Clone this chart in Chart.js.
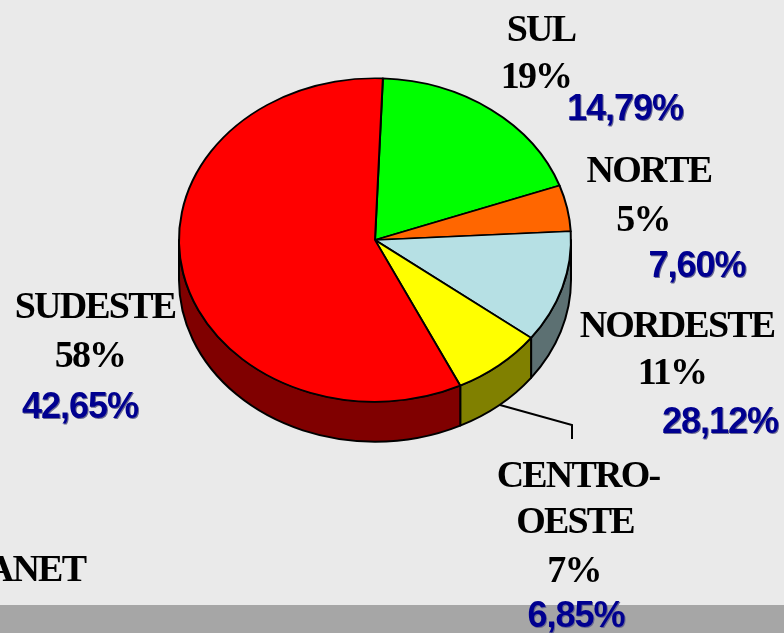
<!DOCTYPE html>
<html>
<head>
<meta charset="utf-8">
<script src="https://cdn.jsdelivr.net/npm/chart.js@4"></script>
<style>
  html, body { margin: 0; padding: 0; background: #eaeaea; overflow: hidden; }
  #page { position: relative; width: 784px; height: 633px; }
  #bar { position: absolute; left: 0; top: 605px; width: 784px; height: 28px; background: #a6a6a6; }
  #chart { position: absolute; left: 0; top: 0; }
</style>
</head>
<body>
<div id="page">
  <div id="bar"></div>
  <canvas id="chart" width="784" height="633"></canvas>
</div>
<script>
const categories = ['SUL', 'NORTE', 'NORDESTE', 'CENTRO-OESTE', 'SUDESTE'];
// slice sizes, they round to the printed labels
const shares = [18.9, 4.6, 11.2, 7.5, 57.8];
const shareLabels = ['19%', '5%', '11%', '7%', '58%'];
const otherLabels = ['14,79%', '7,60%', '28,12%', '6,85%', '42,65%'];
const sliceColors = ['#00ff00', '#ff6600', '#b6e0e4', '#ffff00', '#ff0000'];
const wallColors = ['#008000', '#803300', '#5c7072', '#808000', '#800000'];
const footerText = 'ANET';

const squash = 0.825;
const depth = 40;

// [text, x, baseline]
const serifText = [
  [categories[0], 541, 41],
  [shareLabels[0], 536, 88],
  [categories[1], 649, 182],
  [shareLabels[1], 643, 231],
  [categories[2], 677, 337],
  [shareLabels[2], 672, 384],
  ['CENTRO-', 578, 487],
  ['OESTE', 575, 533],
  [shareLabels[3], 574, 582],
  [categories[4], 95, 318],
  [shareLabels[4], 90, 367],
  [footerText, 36, 581]
];
const blueText = [
  [otherLabels[0], 625, 120],
  [otherLabels[1], 697, 277],
  [otherLabels[2], 720, 433],
  [otherLabels[3], 576, 627],
  [otherLabels[4], 80, 418]
];

const pie3d = {
  id: 'pie3d',
  beforeDatasetDraw(chart) {
    const ctx = chart.ctx;
    const arcs = chart.getDatasetMeta(0).data;
    const cx = arcs[0].x, cy = arcs[0].y, r = arcs[0].outerRadius;

    // leader line for the centro-oeste label
    ctx.save();
    ctx.strokeStyle = '#000';
    ctx.lineWidth = 2;
    ctx.beginPath();
    ctx.moveTo(500, 405);
    ctx.lineTo(572, 425);
    ctx.lineTo(572, 439);
    ctx.stroke();

    // side walls, only the front half of the ellipse shows
    arcs.forEach((arc, i) => {
      const a0 = Math.max(arc.startAngle, 0);
      const a1 = Math.min(arc.endAngle, Math.PI);
      if (a1 <= a0) return;
      ctx.beginPath();
      ctx.ellipse(cx, cy, r, r * squash, 0, a0, a1);
      ctx.ellipse(cx, cy + depth, r, r * squash, 0, a1, a0, true);
      ctx.closePath();
      ctx.fillStyle = wallColors[i];
      ctx.fill();
      ctx.lineJoin = 'round';
      ctx.stroke();
    });
    ctx.restore();

    ctx.save();
    ctx.translate(cx, cy);
    ctx.scale(1, squash);
    ctx.translate(-cx, -cy);
  },
  afterDatasetDraw(chart) {
    chart.ctx.restore();
  },
  afterDraw(chart) {
    const ctx = chart.ctx;
    ctx.save();
    ctx.textAlign = 'center';
    ctx.textBaseline = 'alphabetic';

    ctx.font = 'bold 38px "Liberation Serif"';
    ctx.letterSpacing = '-1.8px';
    ctx.fillStyle = '#000';
    serifText.forEach(t => ctx.fillText(t[0], t[1], t[2]));

    ctx.font = 'bold 36px "Liberation Sans"';
    ctx.letterSpacing = '-1px';
    ctx.fillStyle = '#000090';
    ctx.shadowColor = '#6a6a90';
    ctx.shadowOffsetX = 1;
    ctx.shadowOffsetY = 1;
    blueText.forEach(t => ctx.fillText(t[0], t[1], t[2]));
    ctx.restore();
  }
};

new Chart(document.getElementById('chart'), {
  type: 'pie',
  data: {
    labels: categories,
    datasets: [{
      data: shares,
      backgroundColor: sliceColors,
      borderColor: '#000',
      borderWidth: 2,
      borderJoinStyle: 'round',
      clip: false
    }]
  },
  options: {
    responsive: false,
    animation: false,
    rotation: 2.3,
    radius: 196,
    layout: { padding: { left: 179, right: 213, top: 44, bottom: 197 } },
    plugins: { legend: { display: false }, tooltip: { enabled: false } }
  },
  plugins: [pie3d]
});
</script>
</body>
</html>
